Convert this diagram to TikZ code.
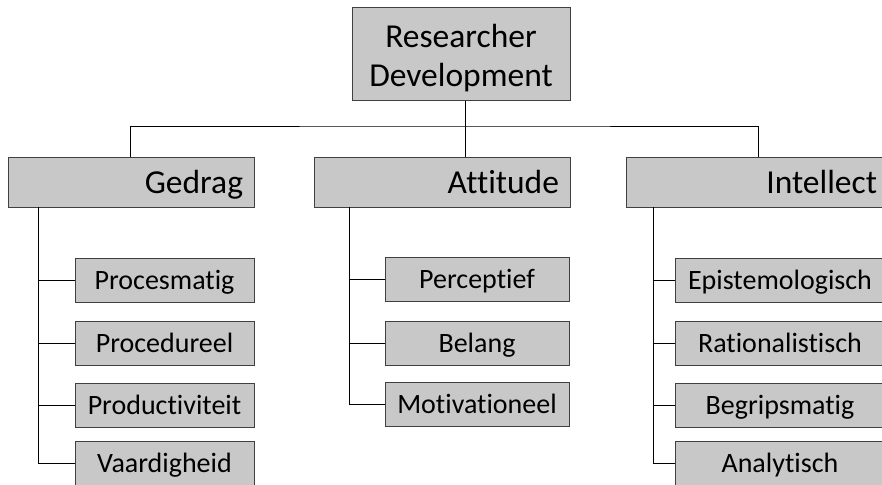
\documentclass[tikz,border=0pt]{standalone}
\usepackage{fontspec}
\setmainfont{Carlito}[Ligatures=NoCommon]
\definecolor{boxfill}{RGB}{200,200,200}
\definecolor{boxline}{RGB}{64,64,64}
\begin{document}
\begin{tikzpicture}[x=1pt,y=-1pt,
  box/.style={draw=boxline, fill=boxfill, line width=1pt, inner sep=0pt, anchor=center},
  rootbox/.style={box, minimum width=218, minimum height=93, align=center,
    font=\fontsize{33.5}{38.5}\selectfont},
  catbox/.style={box, minimum height=50, align=right, text height=28, text depth=6,
    font=\fontsize{33.5}{39}\selectfont},
  subbox/.style={box, minimum height=44, text height=24, text depth=6,
    font=\fontsize{28}{33}\selectfont},
  conn/.style={draw=black, line width=1pt}]
\useasboundingbox (0,0) rectangle (882,484);
\clip (0,0) rectangle (882,484);
% root
\node[rootbox] (root) at (461,54.5) {\rule{0pt}{30pt}Researcher\\Development};
% categories
\node[catbox, minimum width=246, text width=224] (gedrag) at (131,182) {Gedrag};
\node[catbox, minimum width=256, text width=234] (attitude) at (442,182) {Attitude};
\node[catbox, minimum width=262, text width=240] (intellect) at (757,182) {Intellect};
% Gedrag children
\node[subbox, minimum width=179] (procesmatig) at (164.5,280) {Procesmatig};
\node[subbox, minimum width=179] (procedureel) at (164.5,343.5) {Procedureel};
\node[subbox, minimum width=179] (productiviteit) at (164.5,405) {Productiviteit};
\node[subbox, minimum width=179] (vaardigheid) at (164.5,463) {Vaardigheid};
% Attitude children
\node[subbox, minimum width=184] (perceptief) at (477,279.5) {Perceptief};
\node[subbox, minimum width=184] (belang) at (477,343.5) {Belang};
\node[subbox, minimum width=184] (motivationeel) at (477,404.5) {Motivationeel};
% Intellect children
\node[subbox, minimum width=210] (epistemologisch) at (780,280) {Epistemologisch};
\node[subbox, minimum width=210] (rationalistisch) at (780,343.5) {Rationalistisch};
\node[subbox, minimum width=210] (begripsmatig) at (780,405) {Begripsmatig};
\node[subbox, minimum width=210] (analytisch) at (780,463) {Analytisch};
% top connectors
\coordinate (j) at (465,126);
\coordinate (gtop) at (130,157);
\coordinate (itop) at (758,157);
\draw[conn] (root.south -| j) -- (j);
\draw[conn] (gtop) |- (j) -| (itop);
\draw[conn] (j) -- (attitude.north -| j);
% category spines
\coordinate (gs) at (38,207);
\coordinate (as) at (349,207);
\coordinate (is) at (653,207);
\draw[conn] (gs) |- (vaardigheid.west);
\draw[conn] (procesmatig.west) -- (procesmatig.west -| gs);
\draw[conn] (procedureel.west) -- (procedureel.west -| gs);
\draw[conn] (productiviteit.west) -- (productiviteit.west -| gs);
\draw[conn] (as) |- (motivationeel.west);
\draw[conn] (perceptief.west) -- (perceptief.west -| as);
\draw[conn] (belang.west) -- (belang.west -| as);
\draw[conn] (is) |- (analytisch.west);
\draw[conn] (epistemologisch.west) -- (epistemologisch.west -| is);
\draw[conn] (rationalistisch.west) -- (rationalistisch.west -| is);
\draw[conn] (begripsmatig.west) -- (begripsmatig.west -| is);
\end{tikzpicture}
\end{document}
